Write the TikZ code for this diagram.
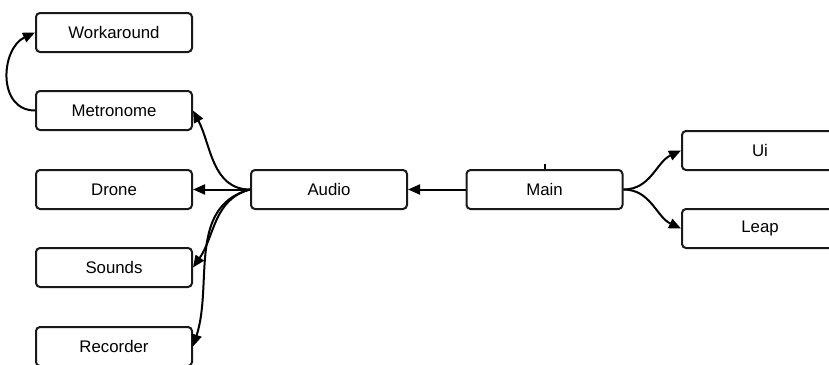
\documentclass[tikz,border=0pt]{standalone}
\usepackage{fontspec}
\setmainfont{Liberation Sans}
\usetikzlibrary{arrows.meta}
\begin{document}
\begin{tikzpicture}[x=1pt,y=-1pt,
  box/.style={draw=black!90, line width=2pt, rounded corners=4pt,
    minimum width=156pt, minimum height=39pt, inner sep=0pt,
    font=\fontsize{16.8}{18}\selectfont},
  link/.style={line width=2pt, -{Triangle[length=12pt,width=10pt]}}]
\useasboundingbox (0,0) rectangle (829,364);
\clip (0,0) rectangle (829,364);
% module boxes
\node[box] (work)  at (114,32.5)  {Workaround};
\node[box] (metro) at (114,110.5) {Metronome};
\node[box] (drone) at (114,189.5) {Drone};
\node[box] (snd)   at (114,267.5) {Sounds};
\node[box] (rec)   at (114,346.5) {Recorder};
\node[box] (audio) at (329,189.5) {Audio};
\node[box] (main)  at (544.5,189.5) {Main};
\node[box] (ui)    at (760,150.5) {Ui};
\node[box] (leap)  at (760,228.5) {Leap};
% small tick on top of Main
\coordinate (tick) at ([xshift=0.5pt,yshift=5pt]main.north);
\draw[line width=1.5pt] (main.north) ++(0.5,0) -- (tick);
% dependencies
\draw[link] (main.west) -- (audio.east);
\draw[link] (main.east) to[out=0,in=205] (ui.west);
\draw[link] (main.east) to[out=0,in=155] (leap.west);
\draw[link] (audio.west) to[out=180,in=-62] (metro.east);
\draw[link] (audio.west) -- (drone.east);
\draw[link] (audio.west) to[out=195,in=55] (snd.east);
\draw[link] (audio.west) to[out=195,in=72] (rec.east);
\draw[link] (metro.west) to[out=180,in=205,looseness=1.25] (work.west);
\end{tikzpicture}
\end{document}
